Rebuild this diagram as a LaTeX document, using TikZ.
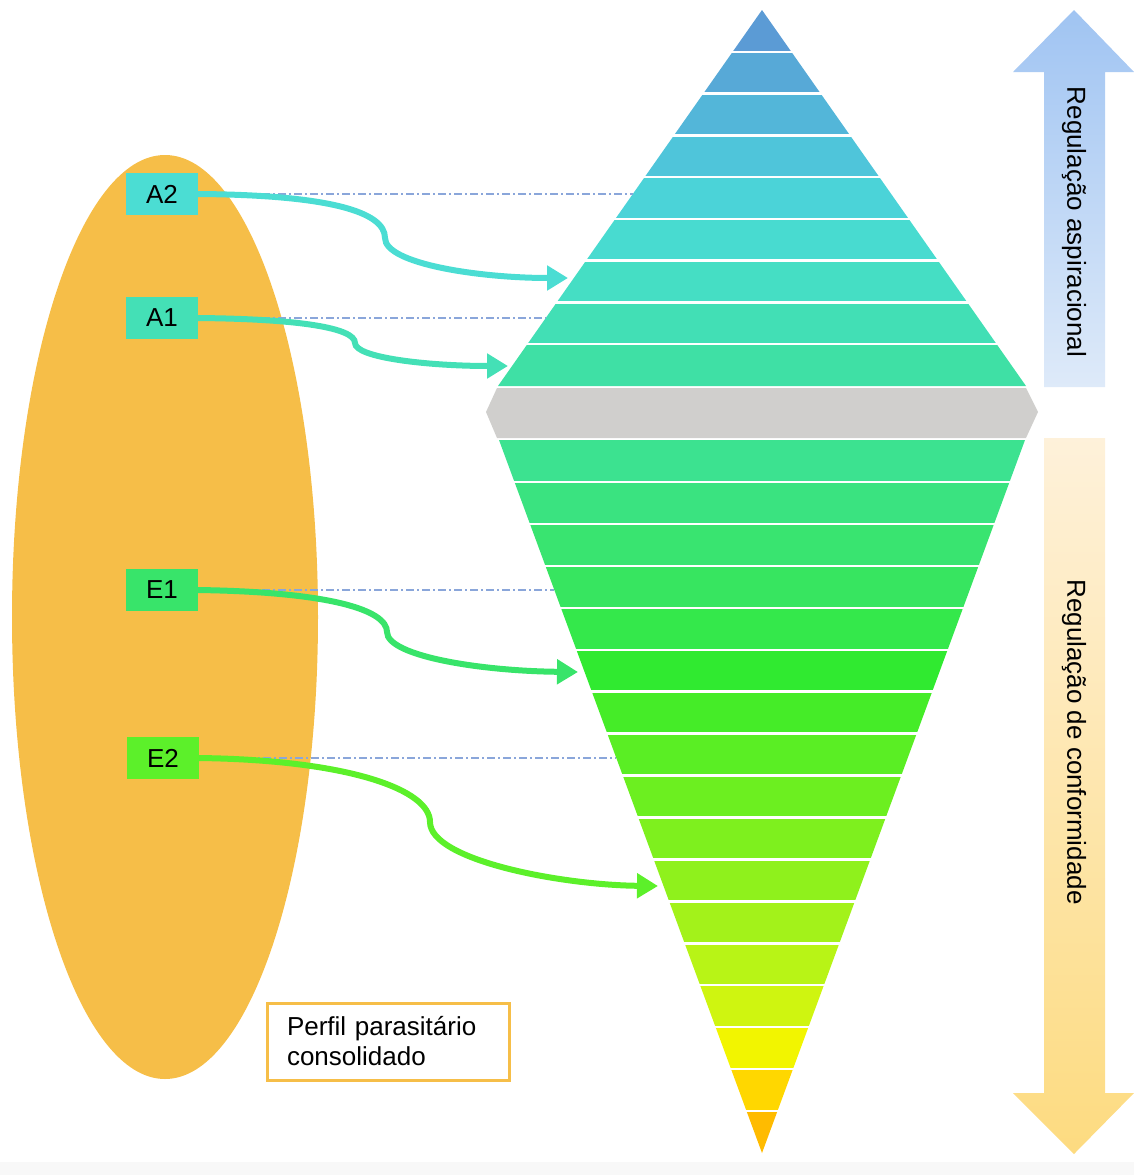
\documentclass[tikz,border=0pt]{standalone}
\usepackage{fontspec}
\setmainfont{Liberation Sans}
\usetikzlibrary{arrows.meta}
\definecolor{ellorange}{HTML}{F6BE48}
\definecolor{grayband}{HTML}{D0CFCD}
\definecolor{guideblue}{HTML}{8AA6DA}
\definecolor{a2c}{HTML}{4BDDD3}
\definecolor{a1c}{HTML}{44E0B6}
\definecolor{e1c}{HTML}{38E46A}
\definecolor{e2c}{HTML}{5CF02A}
\definecolor{upTop}{HTML}{A0C4F2}
\definecolor{upBot}{HTML}{DEEAF9}
\definecolor{dnTop}{HTML}{FEF1DA}
\definecolor{dnBot}{HTML}{FDDB80}
\definecolor{stripc}{HTML}{F8F8F8}
\begin{document}
\begin{tikzpicture}[x=1pt,y=-1pt,
  lbl/.style={font=\fontsize{26}{30}\selectfont, text=black},
  tag/.style={lbl, minimum width=72pt, minimum height=42pt, inner sep=0pt},
  link/.style={line width=6pt, -{Triangle[length=21pt,width=24pt]}},
  guide/.style={draw=guideblue, line width=1.4pt, dash pattern=on 8pt off 3pt on 2pt off 3pt}]
\useasboundingbox (0,0) rectangle (1134,1175);
\fill[stripc] (0,1162) rectangle (1134,1175);
% ellipse
\fill[ellorange] (165,617) ellipse [x radius=153, y radius=462];
% upper triangle bands
\foreach \hx [count=\k] in {5B9BD5,57A9D7,53B6D9,4FC5DA,4BD3D8,48DBD0,45DEC4,42DFB5,3FE0A5} {
  \definecolor{bandc}{HTML}{\hx}
  \pgfmathsetmacro\ya{10+(\k-1)*41.7778}
  \pgfmathsetmacro\yb{10+\k*41.7778}
  \pgfmathsetmacro\wa{0.70213*(\ya-10)}
  \pgfmathsetmacro\wb{0.70213*(\yb-10)}
  \fill[bandc] (762-\wa,\ya) -- (762+\wa,\ya) -- (762+\wb,\yb) -- (762-\wb,\yb) -- cycle;
}
\foreach \k in {1,...,8} {
  \pgfmathsetmacro\yb{10+\k*41.7778}
  \pgfmathsetmacro\wb{0.70213*(\yb-10)+2}
  \draw[white, line width=2.4pt] (762-\wb,\yb) -- (762+\wb,\yb);
}
% gray band
\fill[grayband] (486,412) -- (497,388) -- (1026,388) -- (1038,412) -- (1026,438) -- (497,438) -- cycle;
% lower triangle bands
\foreach \hx [count=\k] in {3CE290,3AE380,39E470,37E560,34E84B,30EA30,45EC28,5AEE24,6CEF20,7EF01E,8FF11C,A3F21A,B8F416,CFF510,F2F500,FFD700,FFBB00} {
  \definecolor{bandc}{HTML}{\hx}
  \pgfmathsetmacro\ya{440+(\k-1)*41.941}
  \pgfmathsetmacro\yb{440+\k*41.941}
  \pgfmathsetmacro\wa{0.36886*(1153-\ya)}
  \pgfmathsetmacro\wb{0.36886*(1153-\yb)}
  \fill[bandc] (762-\wa,\ya) -- (762+\wa,\ya) -- (762+\wb,\yb) -- (762-\wb,\yb) -- cycle;
}
\foreach \k in {1,...,16} {
  \pgfmathsetmacro\yb{440+\k*41.941}
  \pgfmathsetmacro\wb{0.36886*(1153-\yb)+2}
  \draw[white, line width=2.4pt] (762-\wb,\yb) -- (762+\wb,\yb);
}
% right arrows
\shade[top color=upTop, bottom color=upBot] (1074,10) -- (1134,72) -- (1105,72) -- (1105,387) -- (1044,387) -- (1044,72) -- (1013,72) -- cycle;
\shade[top color=dnTop, bottom color=dnBot] (1044,438) -- (1105,438) -- (1105,1093) -- (1134,1093) -- (1074,1154) -- (1013,1093) -- (1044,1093) -- cycle;
\node[lbl, rotate=-90] (tUp) at (1074,222) {Regulação aspiracional};
\node[lbl, rotate=-90] (tDn) at (1074,742) {Regulação de conformidade};
% tags
\node[tag, fill=a2c] (A2) at (162,194) {A2};
\node[tag, fill=a1c] (A1) at (162,318) {A1};
\node[tag, fill=e1c] (E1) at (162,590) {E1};
\node[tag, fill=e2c] (E2) at (163,758) {E2};
% guide ends and arrow tips
\coordinate (gA2) at (633,194);
\coordinate (gA1) at (546,318);
\coordinate (gE1) at (554,590);
\coordinate (gE2) at (616,758);
\coordinate (tA2) at (568,278);
\coordinate (tA1) at (508,366);
\coordinate (tE1) at (578,672);
\coordinate (tE2) at (658,886);
\draw[guide] (A2.east) -- (gA2);
\draw[guide] (A1.east) -- (gA1);
\draw[guide] (E1.east) -- (gE1);
\draw[guide] (E2.east) -- (gE2);
\draw[link, a2c] (A2.east) .. controls (330,195) and (385,212) .. (385,238) .. controls (385,264) and (480,278) .. (tA2);
\draw[link, a1c] (A1.east) .. controls (300,319) and (355,328) .. (355,343) .. controls (355,358) and (430,366) .. (tA1);
\draw[link, e1c] (E1.east) .. controls (330,592) and (387,610) .. (387,632) .. controls (387,656) and (480,671) .. (tE1);
\draw[link, e2c] (E2.east) .. controls (350,760) and (430,790) .. (430,822) .. controls (430,860) and (560,885) .. (tE2);
% caption box
\node[lbl, draw=ellorange, line width=3pt, fill=white, minimum height=77pt, text width=202pt, inner xsep=20pt, align=left] (perf) at (388,1041.5) {Perfil parasitário\\consolidado};
\end{tikzpicture}
\end{document}
